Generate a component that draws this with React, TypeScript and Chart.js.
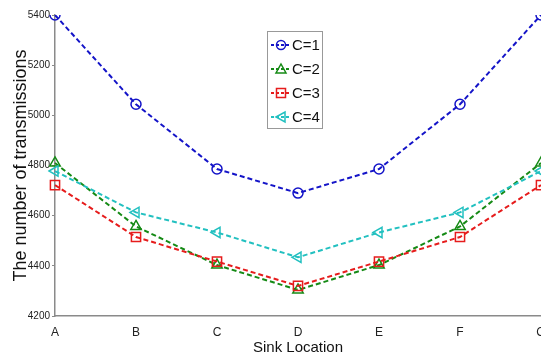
import React, { useEffect, useRef } from "react";
import { Chart, registerables } from "chart.js";

Chart.register(...registerables);

const categories = ["A", "B", "C", "D", "E", "F", "G"];
const c1 = [5400, 5044, 4786, 4690, 4786, 5044, 5400];
const c2 = [4810, 4557, 4403, 4304, 4403, 4557, 4810];
const c3 = [4722, 4515, 4417, 4320, 4417, 4515, 4722];
const c4 = [4778, 4613, 4533, 4434, 4533, 4613, 4778];
const seriesNames = ["C=1", "C=2", "C=3", "C=4"];
const yTicks = [4200, 4400, 4600, 4800, 5000, 5200, 5400];

const COLORS = ["#1414c8", "#158a15", "#e61c1c", "#22c0c0"];
const SANS = "'Liberation Sans', Arial, sans-serif";

function drawMarker(ctx: CanvasRenderingContext2D, kind: number, x: number, y: number, color: string) {
  ctx.save();
  ctx.strokeStyle = color;
  ctx.lineWidth = 1.5;
  ctx.setLineDash([]);
  ctx.beginPath();
  if (kind === 0) {
    ctx.arc(x, y, 4.5, 0, Math.PI * 2);
  } else if (kind === 1) {
    ctx.moveTo(x, y - 5);
    ctx.lineTo(x + 5, y + 4);
    ctx.lineTo(x - 5, y + 4);
    ctx.closePath();
  } else if (kind === 2) {
    ctx.rect(x - 4.5, y - 4.5, 9, 9);
  } else {
    ctx.moveTo(x - 5, y);
    ctx.lineTo(x + 4, y - 5);
    ctx.lineTo(x + 4, y + 5);
    ctx.closePath();
  }
  ctx.stroke();
  ctx.restore();
}

const legendPlugin = {
  id: "insideLegend",
  afterDraw(chart: any) {
    const ctx = chart.ctx as CanvasRenderingContext2D;
    const bx = 267, by = 31, bw = 55, bh = 97;
    ctx.save();
    ctx.fillStyle = "#ffffff";
    ctx.fillRect(bx, by, bw, bh);
    ctx.strokeStyle = "#999999";
    ctx.lineWidth = 1;
    ctx.strokeRect(bx + 0.5, by + 0.5, bw, bh);
    seriesNames.forEach((name, i) => {
      const y = 45 + i * 24;
      ctx.strokeStyle = COLORS[i];
      ctx.lineWidth = 2;
      ctx.setLineDash([3, 2]);
      ctx.beginPath();
      ctx.moveTo(271, y);
      ctx.lineTo(291, y);
      ctx.stroke();
      drawMarker(ctx, i, 281, y, COLORS[i]);
      ctx.fillStyle = "#111111";
      ctx.font = `15px ${SANS}`;
      ctx.textAlign = "left";
      ctx.textBaseline = "middle";
      ctx.fillText(name, 292, y + 1);
    });
    ctx.restore();
  },
};

export default function App() {
  const ref = useRef<HTMLCanvasElement | null>(null);
  useEffect(() => {
    const canvas = ref.current;
    if (!canvas) return;
    const series = [c1, c2, c3, c4];
    const styles = ["circle", "triangle", "rect", "triangle"];
    const radii = [5, 6, 6.5, 6];
    const rotations = [0, 0, 0, -90];
    const chart = new Chart(canvas, {
      type: "line",
      data: {
        labels: categories,
        datasets: series.map((d, i) => ({
          label: seriesNames[i],
          data: d,
          borderColor: COLORS[i],
          backgroundColor: "rgba(0,0,0,0)",
          borderWidth: 2,
          borderDash: [5, 3],
          pointStyle: styles[i] as any,
          pointRadius: radii[i],
          pointRotation: rotations[i],
          pointBorderWidth: 1.5,
          pointBorderColor: COLORS[i],
          pointBackgroundColor: "rgba(0,0,0,0)",
          tension: 0,
          fill: false,
          order: 4 - i,
        })),
      },
      options: {
        responsive: false,
        animation: false,
        layout: { padding: { left: 0, top: 15, right: 19, bottom: 0 } },
        plugins: { legend: { display: false }, tooltip: { enabled: false } },
        scales: {
          x: {
            type: "category",
            offset: false,
            grid: { display: false },
            border: { display: true, color: "#8a8a8a", width: 1.5 },
            ticks: {
              color: "#222",
              font: { family: SANS, size: 12 },
              padding: 1,
              maxRotation: 0,
              autoSkip: false,
            },
            title: {
              display: true,
              text: "Sink Location",
              color: "#111",
              font: { family: SANS, size: 15 },
              padding: { top: 0, bottom: 1 },
            },
            afterFit: (s: any) => {
              s.height = 42;
              s.paddingLeft = 0;
              s.paddingRight = 0;
            },
          },
          y: {
            type: "linear",
            min: 4200,
            max: 5400,
            afterBuildTicks: (s: any) => {
              s.ticks = yTicks.map((v) => ({ value: v }));
            },
            grid: {
              display: true,
              drawOnChartArea: false,
              drawTicks: true,
              tickLength: 3,
              color: "#8a8a8a",
            },
            border: { display: true, color: "#8a8a8a", width: 1.5 },
            ticks: {
              color: "#222",
              font: { family: SANS, size: 10 },
              padding: 2,
              callback: (v: any) => String(v),
            },
            title: {
              display: true,
              text: "The number of transmissions",
              color: "#111",
              font: { family: SANS, size: 18 },
              padding: { top: 10, bottom: 0 },
            },
            afterFit: (s: any) => {
              s.width = 55;
              s.paddingTop = 0;
              s.paddingBottom = 0;
            },
          },
        },
      },
      plugins: [legendPlugin],
    });
    return () => chart.destroy();
  }, []);
  return (
    <div
      style={{
        position: "absolute",
        left: 0,
        top: 0,
        width: 541,
        height: 358,
        overflow: "hidden",
        background: "#ffffff",
      }}
    >
      <canvas ref={ref} width={560} height={358} style={{ width: 560, height: 358, display: "block" }} />
    </div>
  );
}
